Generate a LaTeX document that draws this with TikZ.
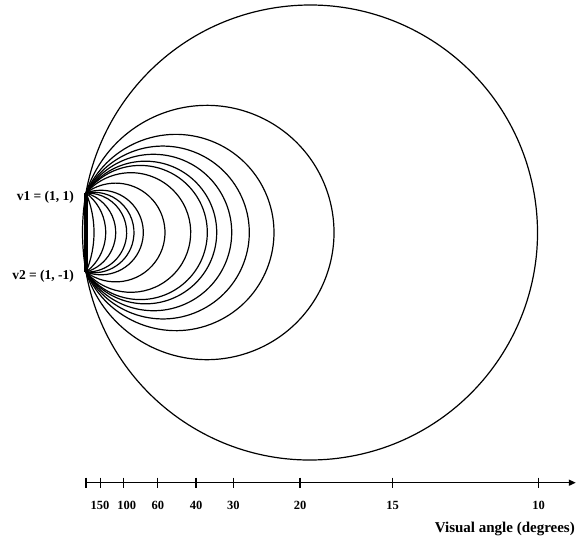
\documentclass[tikz,border=0pt]{standalone}
\usepackage{fontspec}
\setmainfont{Liberation Serif}
\usetikzlibrary{arrows.meta}
\begin{document}
\begin{tikzpicture}[x=39.5pt,y=39.5pt,
  arcline/.style={line width=1.2pt},
  axisline/.style={line width=1.5pt},
  ticklab/.style={font=\fontsize{12.5}{14}\selectfont\bfseries, inner sep=0pt},
  ptlab/.style={font=\fontsize{13.5}{15}\selectfont\bfseries, inner sep=0pt, anchor=east},
  titlelab/.style={font=\fontsize{15}{17}\selectfont\bfseries, inner sep=0pt, anchor=east}]
\useasboundingbox (-2.1772,-7.8101) rectangle (12.405,5.886);
\coordinate (v1) at (0,1);
\coordinate (v2) at (0,-1);
% constant visual angle arcs
\foreach \xr in {0.203,0.499,0.752,1.030,1.215,1.451,2.0,2.651,3.071,3.309,3.689,4.134,4.759,6.278}{
  \pgfmathsetmacro\rr{(\xr*\xr+1)/(2*\xr)}
  \pgfmathsetmacro\aa{atan2(1,\rr-\xr)}
  \draw[arcline] (v2) arc[start angle=-\aa, end angle=\aa, radius=\rr];
}
% outer full circle (10 degrees)
\pgfmathsetmacro\rbig{(11.43*11.43+1)/(2*11.43)}
\pgfmathsetmacro\abig{atan2(1,\rbig-11.43)}
\draw[arcline] (v2) arc[start angle=-\abig, end angle=360-\abig, radius=\rbig];
% segment between the two points
\draw[line width=3.5pt] (v1) -- (v2);
\node[ptlab] (l1) at (-0.30,0.90) {v1 = (1, 1)};
\node[ptlab] (l2) at (-0.30,-1.10) {v2 = (1, -1)};
% axis
\coordinate (a0) at (0,-6.334);
\coordinate (aend) at (12.40,-6.334);
\draw[axisline,-{Triangle[length=7pt,width=6pt]}] (a0) -- (aend);
\foreach \t/\lab/\lx in {0/{}/0, 0.372/150/0.354, 0.944/100/1.03, 1.805/60/1.82, 2.785/40/2.785, 3.729/30/3.729, 5.418/20/5.418, 7.765/15/7.765, 11.461/10/11.461}{
  \draw[axisline] (\t,-6.207) -- (\t,-6.461);
  \node[ticklab] at (\lx,-6.899) {\lab};
}
\node[titlelab] (title) at (12.38,-7.514) {Visual angle (degrees)};
\end{tikzpicture}
\end{document}
